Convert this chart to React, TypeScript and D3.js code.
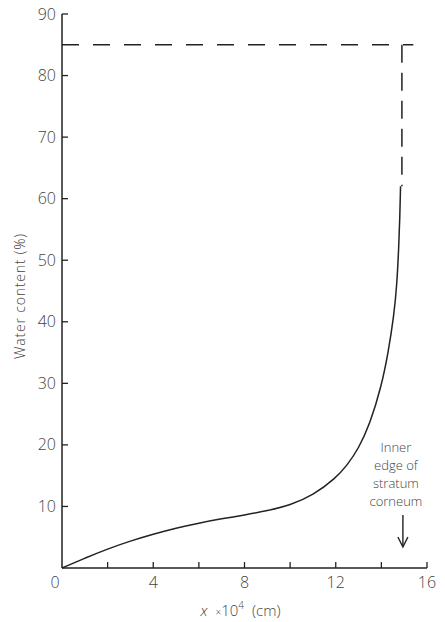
import React, { useRef, useEffect } from 'react';
import * as d3 from 'd3';

// depth into skin, x 10^4 cm
const depth = [0, 1, 2, 3, 4, 5, 6, 7, 8, 9, 10, 11, 12, 12.5, 13, 13.5, 14, 14.3, 14.55, 14.68, 14.76, 14.81, 14.84];
// water content, %
const water = [0, 1.6, 3.1, 4.4, 5.5, 6.5, 7.3, 8.0, 8.6, 9.3, 10.2, 11.8, 14.6, 16.7, 19.4, 23.4, 29.5, 35, 41, 46, 52, 57, 62];

const saturation = 85; // dashed top line
const edgeX = 14.9; // inner edge of stratum corneum
const dashEndX = 15.4;

const xTicks = [0, 2, 4, 6, 8, 10, 12, 14, 16];
const xTickLabels = [4, 8, 12, 16];
const yTicks = [10, 20, 30, 40, 50, 60, 70, 80, 90];
const noteLines = ['Inner', 'edge of', 'stratum', 'corneum'];

const W = 445;
const H = 622;

const App = () => {
    const ref = useRef<SVGSVGElement | null>(null);

    useEffect(() => {
        if (!ref.current) return;
        const svg = d3.select(ref.current);
        svg.selectAll('*').remove();

        const margin = { top: 14, right: 18, bottom: 54, left: 62 };
        const x = d3.scaleLinear().domain([0, 16]).range([margin.left, W - margin.right]);
        const y = d3.scaleLinear().domain([0, 90]).range([H - margin.bottom, margin.top]);

        const ink = '#222';
        const font = '"Open Sans", "Liberation Sans", sans-serif';
        const labelColor = '#444';

        // axes lines
        svg.append('line')
            .attr('x1', x(0)).attr('x2', x(0))
            .attr('y1', y(90)).attr('y2', y(0))
            .attr('stroke', ink).attr('stroke-width', 1.5);
        svg.append('line')
            .attr('x1', x(0)).attr('x2', x(16))
            .attr('y1', y(0)).attr('y2', y(0))
            .attr('stroke', ink).attr('stroke-width', 1.5);

        // y ticks (pointing inward)
        svg.selectAll('.ytick')
            .data(yTicks)
            .join('line')
            .attr('class', 'ytick')
            .attr('x1', x(0)).attr('x2', x(0) + 6)
            .attr('y1', d => y(d)).attr('y2', d => y(d))
            .attr('stroke', ink).attr('stroke-width', 1.3);

        svg.selectAll('.ylab')
            .data(yTicks)
            .join('text')
            .attr('class', 'ylab')
            .attr('x', x(0) - 6)
            .attr('y', d => y(d))
            .attr('dy', '0.35em')
            .attr('text-anchor', 'end')
            .attr('font-family', font)
            .attr('font-weight', 300)
            .attr('font-size', 16)
            .attr('fill', labelColor)
            .text(d => d);

        // x ticks (pointing up)
        svg.selectAll('.xtick')
            .data(xTicks.filter(d => d > 0))
            .join('line')
            .attr('class', 'xtick')
            .attr('x1', d => x(d)).attr('x2', d => x(d))
            .attr('y1', y(0)).attr('y2', y(0) - 6)
            .attr('stroke', ink).attr('stroke-width', 1.3);

        svg.selectAll('.xlab')
            .data(xTickLabels)
            .join('text')
            .attr('class', 'xlab')
            .attr('x', d => x(d))
            .attr('y', y(0) + 14)
            .attr('dy', '0.35em')
            .attr('text-anchor', 'middle')
            .attr('font-family', font)
            .attr('font-weight', 300)
            .attr('font-size', 16)
            .attr('fill', labelColor)
            .text(d => d);

        // origin label
        svg.append('text')
            .attr('x', x(0) - 7)
            .attr('y', y(0) + 14)
            .attr('dy', '0.35em')
            .attr('text-anchor', 'middle')
            .attr('font-family', font)
            .attr('font-weight', 300)
            .attr('font-size', 16)
            .attr('fill', labelColor)
            .text('0');

        // y axis title
        svg.append('text')
            .attr('transform', `translate(20,${y(45) + 5}) rotate(-90)`)
            .attr('text-anchor', 'middle')
            .attr('dy', '0.35em')
            .attr('font-family', font)
            .attr('font-weight', 300)
            .attr('font-size', 14)
            .attr('letter-spacing', 0.8)
            .attr('fill', labelColor)
            .text('Water content (%)');

        // x axis title
        const xt = svg.append('text')
            .attr('x', (x(0) + x(16)) / 2 - 4)
            .attr('y', H - 6)
            .attr('text-anchor', 'middle')
            .attr('font-family', font)
            .attr('font-weight', 300)
            .attr('font-size', 15)
            .attr('fill', labelColor);
        xt.append('tspan').attr('font-style', 'italic').text('x');
        xt.append('tspan').attr('dx', 8).attr('font-size', 10).text('×');
        xt.append('tspan').attr('font-size', 15).text('10');
        xt.append('tspan').attr('font-size', 10).attr('dy', -7).text('4');
        xt.append('tspan').attr('dy', 7).attr('dx', 8).text('(cm)');

        // dashed saturation lines
        svg.append('line')
            .attr('x1', x(0)).attr('x2', x(dashEndX))
            .attr('y1', y(saturation)).attr('y2', y(saturation))
            .attr('stroke', ink).attr('stroke-width', 1.5)
            .attr('stroke-dasharray', '17 14');
        svg.append('line')
            .attr('x1', x(edgeX)).attr('x2', x(edgeX))
            .attr('y1', y(saturation)).attr('y2', y(water[water.length - 1]))
            .attr('stroke', ink).attr('stroke-width', 1.5)
            .attr('stroke-dasharray', '18 10');

        // water profile curve
        const pts = depth.map((d, i) => [d, water[i]] as [number, number]);
        const line = d3.line<[number, number]>()
            .x(d => x(d[0]))
            .y(d => y(d[1]))
            .curve(d3.curveBasis);
        svg.append('path')
            .datum(pts)
            .attr('fill', 'none')
            .attr('stroke', ink)
            .attr('stroke-width', 1.5)
            .attr('d', line);

        // annotation
        svg.selectAll('.note')
            .data(noteLines)
            .join('text')
            .attr('class', 'note')
            .attr('x', x(edgeX) - 6)
            .attr('y', (d, i) => 447 + i * 18)
            .attr('text-anchor', 'middle')
            .attr('dy', '0.35em')
            .attr('font-family', font)
            .attr('font-weight', 300)
            .attr('font-size', 13)
            .attr('fill', labelColor)
            .text(d => d);

        // arrow
        const ax = x(edgeX) + 1;
        svg.append('line')
            .attr('x1', ax).attr('x2', ax)
            .attr('y1', 515).attr('y2', 546)
            .attr('stroke', ink).attr('stroke-width', 1.4);
        svg.append('path')
            .attr('d', `M${ax - 5},${537} L${ax},${547} L${ax + 5},${537}`)
            .attr('fill', 'none')
            .attr('stroke', ink)
            .attr('stroke-width', 1.4);
    }, []);

    return (
        <svg
            ref={ref}
            width={W}
            height={H}
            style={{ position: 'absolute', left: 0, top: 0, background: '#fff' }}
        />
    );
};

export default App;
